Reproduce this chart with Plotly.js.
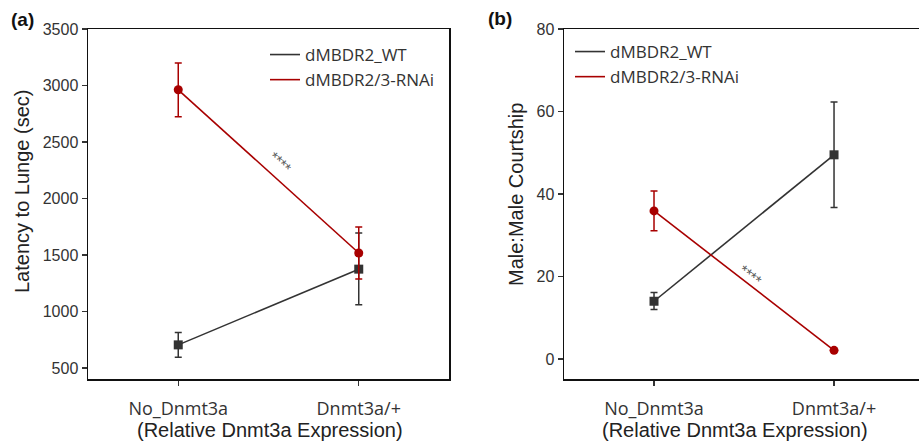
<!DOCTYPE html>
<html>
<head>
<meta charset="utf-8">
<script src="https://cdn.plot.ly/plotly-3.0.1.min.js"></script>
<style>html,body{margin:0;padding:0;background:#fff;}#chart{width:919px;height:444px;}</style>
</head>
<body>
<div id="chart"></div>
<script>
// ---- data ----
var categories = ["No_Dnmt3a", "Dnmt3a/+"];
var seriesNames = ["dMBDR2_WT", "dMBDR2/3-RNAi"];
var xTitle = "(Relative Dnmt3a Expression)";
var yTitleA = "Latency to Lunge (sec)";
var yTitleB = "Male:Male Courtship";

// Panel (a): Latency to Lunge (sec)
var latencyWT = [705, 1375];
var latencyWTErrUp = [110, 320];
var latencyWTErrDown = [110, 315];
var latencyRNAi = [2962, 1518];
var latencyRNAiErrUp = [238, 230];
var latencyRNAiErrDown = [238, 230];

// Panel (b): Male:Male Courtship
var courtWT = [14, 49.5];
var courtWTErrUp = [2.1, 12.8];
var courtWTErrDown = [2.0, 12.8];
var courtRNAi = [35.9, 2.1];
var courtRNAiErrUp = [4.8, 0];
var courtRNAiErrDown = [4.8, 0];

var colWT = "#333333";
var colRNAi = "#a80000";
var W = 919, H = 444, PH = 350, BOT = 379;
var font = "Liberation Sans, Arial, sans-serif";
var font2 = "Open Sans, DejaVu Sans, sans-serif";
function px(x) { return x / W; }
function py(y) { return (BOT - y) / PH; }

function series(x, y, up, down, color, symbol, xa, ya) {
  return {
    x: x, y: y, xaxis: xa, yaxis: ya, type: "scatter", mode: "lines+markers",
    showlegend: false, cliponaxis: false,
    line: {color: color, width: 1.6},
    marker: {color: color, size: 9, symbol: symbol},
    error_y: {type: "data", symmetric: false, array: up, arrayminus: down,
              color: color, thickness: 1.5, width: 3.5}
  };
}
function legItem(name, color, leg) {
  return {x: [null], y: [null], type: "scatter", mode: "lines", name: name,
          legend: leg, line: {color: color, width: 1.6}, xaxis: leg === "legend" ? "x" : "x2",
          yaxis: leg === "legend" ? "y" : "y2"};
}

var traces = [
  series(categories, latencyWT, latencyWTErrUp, latencyWTErrDown, colWT, "square", "x", "y"),
  series(categories, latencyRNAi, latencyRNAiErrUp, latencyRNAiErrDown, colRNAi, "circle", "x", "y"),
  series(categories, courtWT, courtWTErrUp, courtWTErrDown, colWT, "square", "x2", "y2"),
  series(categories, courtRNAi, courtRNAiErrUp, courtRNAiErrDown, colRNAi, "circle", "x2", "y2"),
  legItem(seriesNames[0], colWT, "legend"),
  legItem(seriesNames[1], colRNAi, "legend"),
  legItem(seriesNames[0], colWT, "legend2"),
  legItem(seriesNames[1], colRNAi, "legend2")
];

var axisCommon = {
  showgrid: false, zeroline: false, showline: true, linecolor: "#111", linewidth: 1.5,
  ticks: "outside", ticklen: 5, tickwidth: 1.2, tickcolor: "#333"
};
function xax(domain, range, mirror) {
  return Object.assign({}, axisCommon, {
    domain: domain, range: range, type: "category", mirror: mirror,
    ticklabelstandoff: 8,
    tickfont: {family: font2, size: 18, color: "#333"}
  });
}
function yax(range, dtick, anchor, mirror) {
  return Object.assign({}, axisCommon, {
    range: range, dtick: dtick, anchor: anchor, mirror: mirror,
    tickfont: {family: font, size: 16, color: "#333"}
  });
}
function titleAnn(text, x, y, angle) {
  return {text: text, xref: "paper", yref: "paper", x: px(x), y: py(y),
          xanchor: "center", yanchor: "middle", textangle: angle, showarrow: false,
          font: {family: font, size: 20, color: "#222"}};
}
function starAnn(x, y, angle) {
  return {text: "****", xref: "paper", yref: "paper", x: px(x), y: py(y),
          xanchor: "center", yanchor: "middle", showarrow: false, textangle: angle,
          font: {family: font, size: 15, color: "#555"}};
}
function legendCfg(x, y) {
  return {x: px(x), y: py(y), xanchor: "left", yanchor: "top",
          bgcolor: "rgba(0,0,0,0)", font: {family: font2, size: 17, color: "#333"},
          tracegroupgap: 0, itemwidth: 30};
}

var layout = {
  width: W, height: H,
  margin: {l: 0, r: 0, t: 29, b: 65},
  paper_bgcolor: "#fff", plot_bgcolor: "#fff",
  xaxis: xax([px(88), px(449)], [-0.5, 1.5], true),
  yaxis: yax([403, 3500], 500, "x", true),
  xaxis2: Object.assign(xax([px(564), 1], [-0.5, 1.472], true), {anchor: "y2"}),
  yaxis2: yax([-4.85, 80], 20, "x2", false),
  legend: legendCfg(265, 37),
  legend2: legendCfg(570, 34),
  annotations: [
    {text: "<b>(a)</b>", xref: "paper", yref: "paper", x: px(9), y: py(20),
     xanchor: "left", yanchor: "middle", showarrow: false, font: {family: font, size: 19, color: "#111"}},
    {text: "<b>(b)</b>", xref: "paper", yref: "paper", x: px(486), y: py(18),
     xanchor: "left", yanchor: "middle", showarrow: false, font: {family: font, size: 19, color: "#111"}},
    starAnn(281, 162, 42),
    starAnn(751, 275, 38),
    titleAnn(xTitle, 270, 430, 0),
    titleAnn(xTitle, 735, 430, 0),
    titleAnn(yTitleA, 22, 192, -90),
    titleAnn(yTitleB, 516, 195, -90)
  ]
};

Plotly.newPlot("chart", traces, layout, {displayModeBar: false, staticPlot: true});
</script>
</body>
</html>
